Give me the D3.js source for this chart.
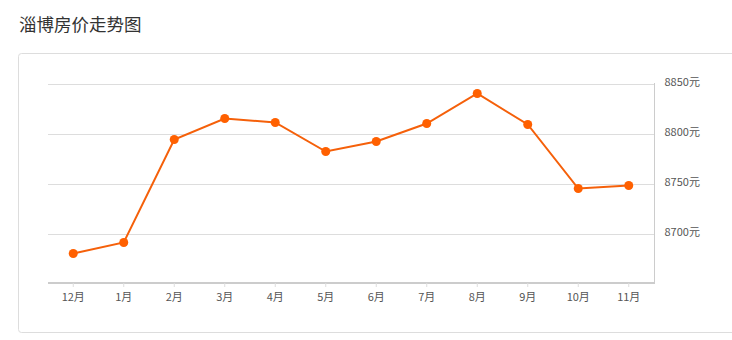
<!DOCTYPE html>
<html>
<head>
<meta charset="utf-8">
<script src="https://cdn.jsdelivr.net/npm/d3@7"></script>
<style>
  body { margin: 0; background: #fff; }
  svg { display: block; }
</style>
</head>
<body>
<div id="chart"></div>
<script>
var months = ["12月","1月","2月","3月","4月","5月","6月","7月","8月","9月","10月","11月"];
var prices = [8680, 8691, 8794, 8815, 8811, 8782, 8792, 8810, 8840, 8809, 8745, 8748];
var yTicks = [8700, 8750, 8800, 8850];

var width = 732, height = 340;
var font = "'Noto Sans CJK SC', 'Noto Sans', sans-serif";

var svg = d3.select("#chart")
    .append("svg")
    .attr("width", width)
    .attr("height", height);

// title
svg.append("text")
    .attr("x", 19)
    .attr("y", 31)
    .attr("font-family", font)
    .attr("font-size", 17.5)
    .attr("fill", "#333")
    .text("淄博房价走势图");

// frame around the chart
svg.append("rect")
    .attr("x", 18.5)
    .attr("y", 53.5)
    .attr("width", 740)
    .attr("height", 279)
    .attr("rx", 3)
    .attr("fill", "none")
    .attr("stroke", "#ddd");

var x = d3.scaleBand()
    .domain(months)
    .range([48, 654]);

var y = d3.scaleLinear()
    .domain([8650, 8850])
    .range([283.5, 83.5]);

// grid lines
svg.append("g")
    .selectAll("line")
    .data(yTicks)
    .enter()
    .append("line")
    .attr("x1", 48)
    .attr("x2", 654)
    .attr("y1", function(d) { return Math.round(y(d)) + 0.5; })
    .attr("y2", function(d) { return Math.round(y(d)) + 0.5; })
    .attr("stroke", "#ddd");

// right axis
var yAxis = svg.append("g")
    .attr("transform", "translate(654.5,0)")
    .call(d3.axisRight(y).tickValues(yTicks).tickSize(0).tickPadding(10)
        .tickFormat(function(d) { return d + "元"; }));
yAxis.select(".domain").remove();
yAxis.append("line")
    .attr("x1", 0).attr("x2", 0)
    .attr("y1", 83).attr("y2", 284)
    .attr("stroke", "#ccc");
yAxis.selectAll("text")
    .attr("font-family", font)
    .attr("font-size", 11)
    .attr("fill", "#555")
    .attr("dy", "0.2em");

// bottom axis
var xAxis = svg.append("g")
    .attr("transform", "translate(0,283)")
    .call(d3.axisBottom(x).tickSize(4).tickPadding(6));
xAxis.select(".domain")
    .attr("d", "M48,0H654")
    .attr("stroke", "#ccc")
    .attr("stroke-width", 2);
xAxis.selectAll(".tick line")
    .attr("stroke", "#ddd");
xAxis.selectAll("text")
    .attr("font-family", font)
    .attr("font-size", 11)
    .attr("fill", "#555");

// price line
var line = d3.line()
    .x(function(d, i) { return x(months[i]) + x.bandwidth() / 2; })
    .y(function(d) { return y(d); });

svg.append("path")
    .datum(prices)
    .attr("d", line)
    .attr("fill", "none")
    .attr("stroke", "#f5600a")
    .attr("stroke-width", 2);

svg.append("g")
    .selectAll("circle")
    .data(prices)
    .enter()
    .append("circle")
    .attr("cx", function(d, i) { return x(months[i]) + x.bandwidth() / 2; })
    .attr("cy", function(d) { return y(d); })
    .attr("r", 4.5)
    .attr("fill", "#ff6000");
</script>
</body>
</html>
